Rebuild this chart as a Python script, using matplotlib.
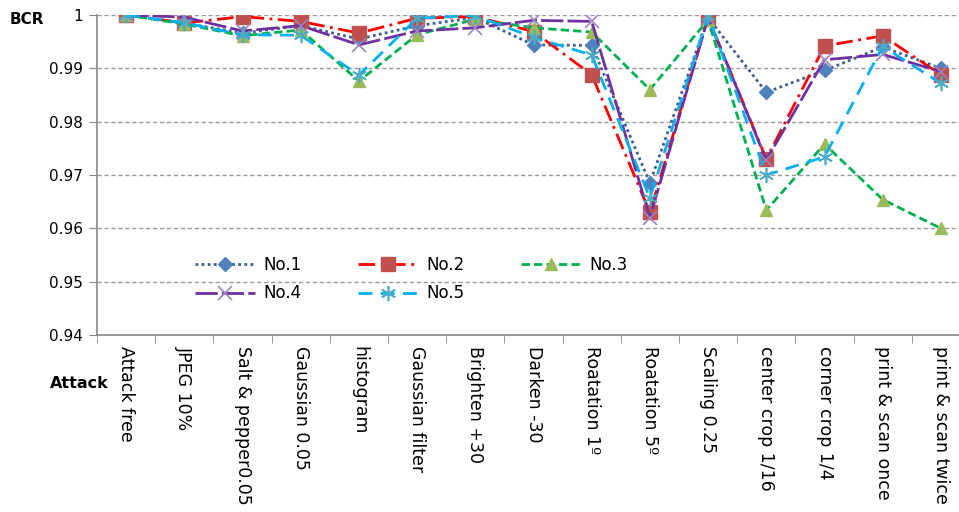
import matplotlib
matplotlib.use('Agg')
import matplotlib.pyplot as plt
import numpy as np

# attacks and BCR values for the five test images
attacks = ['Attack free', 'JPEG 10%', 'Salt & pepper0.05', 'Gaussian 0.05', 'histogram',
           'Gaussian filter', 'Brighten +30', 'Darken -30', 'Roatation 1º', 'Roatation 5º',
           'Scaling 0.25', 'center crop 1/16', 'corner crop 1/4', 'print & scan once',
           'print & scan twice']
no1 = [1.0, 0.9985, 0.9966, 0.9980, 0.9955, 0.9980, 0.9995, 0.9944, 0.9943, 0.9685,
       0.9995, 0.9855, 0.9896, 0.9940, 0.9900]
no2 = [1.0, 0.9985, 0.9997, 0.9988, 0.9966, 0.9994, 0.9997, 0.9969, 0.9888, 0.9630,
       0.9995, 0.9730, 0.9942, 0.9961, 0.9888]
no3 = [1.0, 0.9983, 0.9961, 0.9972, 0.9876, 0.9963, 0.9992, 0.9976, 0.9968, 0.9860,
       0.9991, 0.9634, 0.9758, 0.9654, 0.9600]
no4 = [1.0, 0.9996, 0.9970, 0.9980, 0.9944, 0.9970, 0.9976, 0.9990, 0.9988, 0.9620,
       0.9995, 0.9728, 0.9916, 0.9926, 0.9894]
no5 = [1.0, 0.9985, 0.9963, 0.9962, 0.9887, 0.9994, 0.9999, 0.9958, 0.9925, 0.9657,
       0.9998, 0.9700, 0.9734, 0.9941, 0.9872]

x = np.arange(len(attacks))

fig = plt.figure(figsize=(9.59, 5.12), dpi=100)
ax = fig.add_axes([97 / 959, 177 / 512, 873 / 959, 320 / 512])

l1, = ax.plot(x, no1, color='#3A5F8F', ls=(0, (1, 1.2)), lw=2, marker='D', ms=7,
              mfc='#4F81BD', mec='#4F81BD', label='No.1')
l2, = ax.plot(x, no2, color='#FF0000', ls=(0, (6, 2, 1, 2)), lw=2, marker='s', ms=10,
              mfc='#C0504D', mec='#C0504D', label='No.2')
l3, = ax.plot(x, no3, color='#00B050', ls=(0, (3, 1.5)), lw=2, marker='^', ms=9,
              mfc='#9BBB59', mec='#9BBB59', label='No.3')
l4, = ax.plot(x, no4, color='#7030A0', ls=(0, (8, 1.5)), lw=2, marker='x', ms=10,
              mec='#9C85C0', mew=1.2, label='No.4')
l5, = ax.plot(x, no5, color='#00B0F0', ls=(0, (5, 3)), lw=2, marker=(6, 2, 0), ms=11,
              mec='#4BACC6', mew=1.2, label='No.5')

ax.set_xlim(-0.5, len(attacks) - 0.5)
ax.set_ylim(0.94, 1.0)
ax.set_yticks(np.arange(0.94, 1.0001, 0.01))
ax.set_yticklabels(['0.94', '0.95', '0.96', '0.97', '0.98', '0.99', '1'], fontsize=11)
ax.set_xticks(x)
ax.set_xticklabels(attacks, rotation=270, fontsize=12.5, family='DejaVu Sans')
ax.set_xticks(np.arange(-0.5, len(attacks), 1), minor=True)
ax.tick_params(axis='x', which='major', length=0, pad=8)
ax.tick_params(axis='x', which='minor', length=6, color='#888888')
ax.tick_params(axis='y', length=6, color='#888888', pad=4)

ax.grid(axis='y', color='#999999', ls=(0, (3, 2)), lw=1)
ax.set_axisbelow(True)
for s in ['top', 'right']:
    ax.spines[s].set_visible(False)
for s in ['left', 'bottom']:
    ax.spines[s].set_color('#888888')
    ax.spines[s].set_linewidth(1.2)

fig.text(10 / 959, 1 - 20 / 512, 'BCR', fontsize=11, fontweight='bold', va='center')
fig.text(50 / 959, 1 - 384 / 512, 'Attack', fontsize=11.5, fontweight='bold', va='center',
         family='Liberation Sans Narrow')

# row-wise order: No.1 No.2 No.3 / No.4 No.5
ax.legend([l1, l4, l2, l5, l3], ['No.1', 'No.4', 'No.2', 'No.5', 'No.3'],
          ncol=3, loc='upper left', bbox_to_anchor=(0.095, 0.295), frameon=False,
          fontsize=12, handlelength=3.6, columnspacing=3.4, labelspacing=0.65,
          handletextpad=0.5)

fig.savefig('out.png', dpi=100)
